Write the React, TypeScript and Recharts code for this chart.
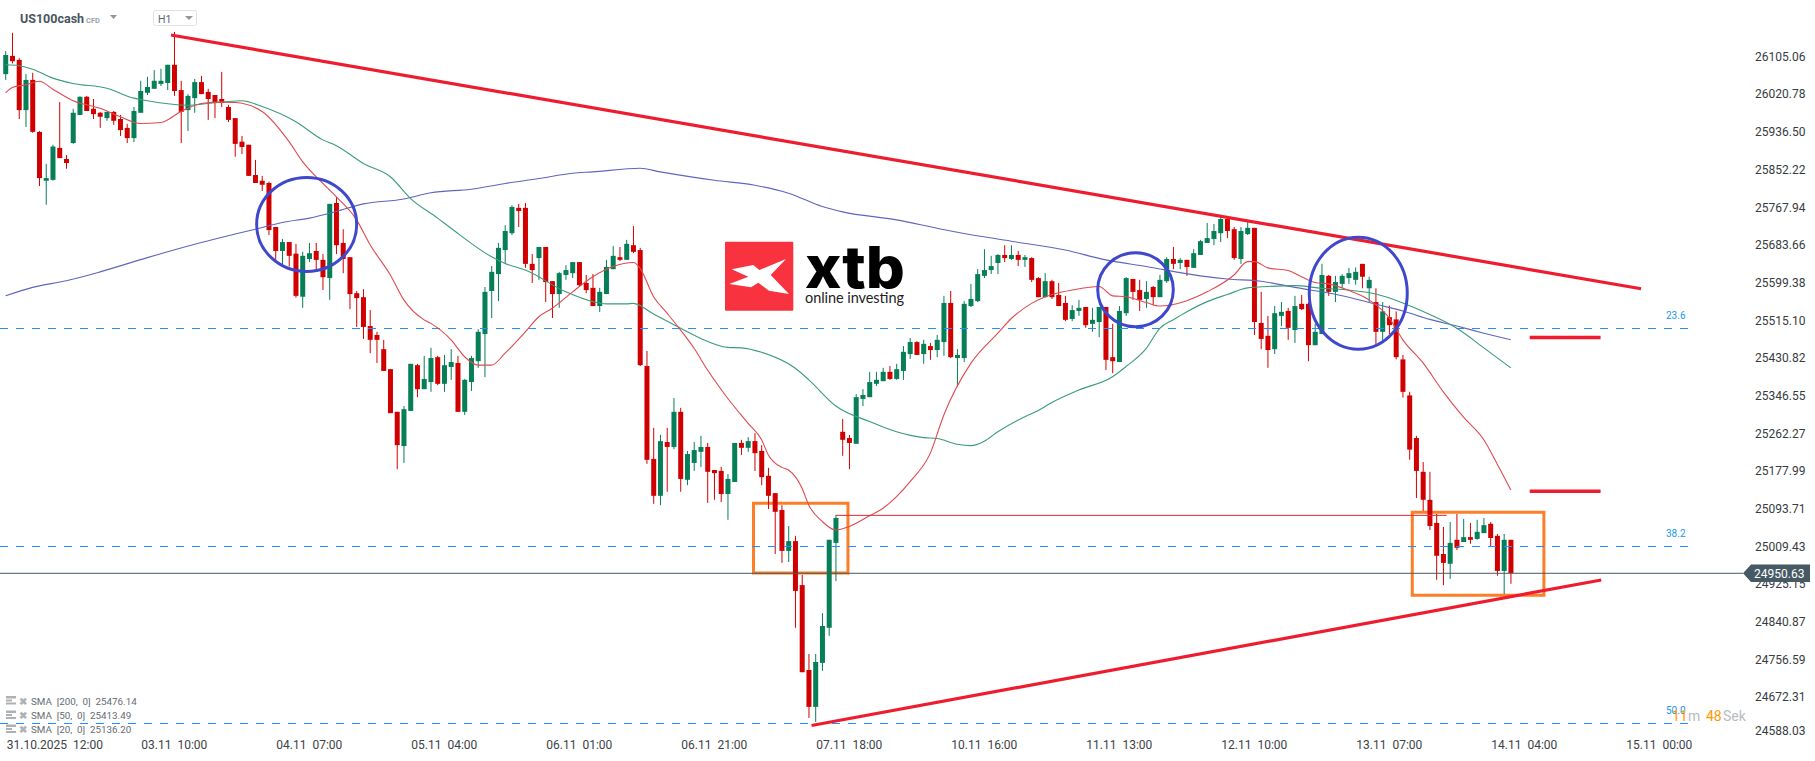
import { ComposedChart, Bar, Line, XAxis, YAxis, ReferenceLine, ReferenceArea, ReferenceDot } from 'recharts';

// hourly candles, 31.10.2025 12:00 onwards
const highs = [
  26126,26167,26110,26074,26077,25946,25872,25915,26011,25892,
  25996,26024,26025,26018,25989,25989,25991,25982,25962,26000,
  26059,26068,26083,26086,26095,26169,26059,26029,26063,26070,
  26041,26027,26079,26005,25975,25935,25915,25881,25845,25832,
  25730,25703,25696,25692,25674,25694,25694,25669,25782,25797,
  25725,25662,25586,25590,25543,25494,25476,25410,25314,25327,
  25422,25422,25440,25458,25440,25442,25455,25440,25388,25440,
  25500,25595,25642,25694,25734,25779,25782,25784,25669,25685,
  25685,25608,25629,25644,25651,25651,25622,25624,25593,25656,
  25687,25685,25701,25732,25683,25451,25278,25262,25278,25345,
  25323,25226,25246,25260,25244,25183,25190,25174,25244,25251,
  25257,25266,25239,25188,25131,25104,25057,25035,24947,24769,
  24769,24861,25026,25082,25298,25262,25354,25365,25404,25404,
  25413,25417,25422,25462,25480,25473,25476,25469,25487,25575,
  25586,25455,25563,25602,25635,25680,25665,25669,25689,25689,
  25676,25667,25662,25617,25626,25611,25604,25575,25554,25566,
  25550,25548,25550,25550,25512,25552,25617,25613,25611,25608,
  25597,25622,25662,25685,25660,25656,25680,25701,25739,25737,
  25755,25755,25730,25730,25741,25728,25584,25530,25552,25561,
  25548,25575,25577,25561,25512,25647,25622,25620,25624,25638,
  25639,25647,25618,25592,25561,25553,25540,25442,25359,25260,
  25201,25179,25084,25055,25066,25084,25073,25064,25071,25075,
  25066,25039,25039,25026,
];
const opens = [
  26074,26115,26106,25993,26061,25944,25834,25836,25908,25883,
  25919,25982,26023,25996,25987,25975,25989,25973,25953,25930,
  25987,26032,26041,26052,26054,26095,26038,25993,26020,26056,
  26034,26027,26018,26000,25975,25922,25915,25847,25834,25829,
  25730,25676,25696,25670,25573,25658,25676,25656,25615,25784,
  25694,25662,25581,25572,25507,25487,25455,25410,25314,25237,
  25316,25419,25365,25381,25437,25377,25415,25424,25314,25381,
  25428,25489,25586,25624,25678,25716,25773,25773,25647,25660,
  25685,25608,25579,25622,25626,25651,25604,25593,25552,25579,
  25635,25662,25656,25689,25678,25417,25208,25125,25246,25235,
  25314,25161,25199,25224,25235,25183,25181,25129,25156,25244,
  25233,25248,25226,25170,25131,25093,25001,25023,24924,24733,
  24650,24749,24828,25019,25269,25255,25242,25343,25347,25377,
  25383,25404,25388,25406,25444,25471,25444,25462,25453,25471,
  25559,25435,25435,25552,25563,25620,25633,25649,25667,25658,
  25667,25656,25660,25615,25572,25608,25577,25559,25523,25541,
  25550,25512,25516,25550,25437,25426,25536,25613,25588,25568,
  25595,25572,25608,25658,25649,25656,25638,25667,25694,25703,
  25716,25748,25725,25658,25714,25728,25514,25485,25455,25530,
  25541,25498,25557,25557,25464,25489,25620,25584,25602,25615,
  25611,25647,25592,25561,25494,25527,25522,25432,25351,25255,
  25179,25116,25064,24994,24972,25026,25021,25032,25028,25041,
  25062,25035,24956,25026,
];
const closes = [
  26117,26103,25993,26061,25944,25840,25840,25911,25885,25874,
  25987,26023,25991,25984,25978,25989,25969,25948,25930,25991,
  26036,26045,26059,26059,26095,26036,25989,26025,26056,26029,
  26018,26009,26009,25971,25917,25910,25845,25829,25825,25723,
  25676,25696,25665,25575,25665,25671,25656,25617,25782,25689,
  25658,25579,25570,25505,25476,25476,25406,25311,25239,25320,
  25422,25365,25388,25435,25377,25419,25426,25314,25386,25435,
  25494,25584,25629,25683,25721,25775,25766,25647,25633,25685,
  25606,25579,25626,25633,25651,25599,25588,25552,25584,25640,
  25665,25656,25692,25674,25419,25206,25125,25248,25235,25314,
  25163,25219,25228,25235,25179,25176,25129,25163,25244,25233,
  25248,25221,25167,25125,25089,25001,25023,24911,24728,24650,
  24751,24832,25026,25075,25251,25244,25347,25352,25381,25386,
  25404,25388,25410,25449,25471,25442,25467,25453,25476,25559,
  25437,25442,25557,25568,25624,25633,25642,25667,25660,25667,
  25656,25662,25611,25572,25608,25572,25552,25521,25543,25548,
  25509,25521,25550,25431,25428,25541,25615,25584,25566,25584,
  25572,25611,25658,25647,25656,25640,25671,25698,25705,25721,
  25748,25721,25660,25721,25728,25516,25478,25453,25536,25539,
  25503,25552,25545,25464,25494,25622,25584,25606,25620,25626,
  25629,25618,25611,25494,25540,25509,25437,25359,25229,25181,
  25116,25057,24990,24974,25019,25008,25032,25026,25044,25059,
  25030,24956,25026,24951,
];
const lows = [
  26061,26098,25973,25955,25942,25822,25780,25834,25885,25861,
  25917,25982,25991,25973,25953,25969,25960,25935,25919,25921,
  25987,26027,26041,26047,26038,26025,25919,25946,25987,26029,
  25971,25975,26000,25966,25888,25894,25845,25829,25811,25712,
  25656,25645,25641,25571,25548,25651,25633,25588,25566,25669,
  25626,25545,25505,25478,25446,25424,25406,25311,25185,25199,
  25316,25347,25365,25359,25374,25359,25386,25314,25307,25361,
  25413,25392,25525,25563,25647,25712,25730,25638,25604,25611,
  25561,25525,25548,25611,25615,25597,25581,25552,25539,25579,
  25635,25653,25656,25671,25417,25197,25107,25104,25134,25230,
  25134,25149,25181,25190,25109,25116,25111,25071,25156,25217,
  25224,25181,25149,25095,24994,24974,24976,24828,24728,24625,
  24616,24731,24810,24933,25215,25185,25242,25327,25347,25372,
  25383,25386,25386,25386,25433,25442,25422,25431,25437,25440,
  25435,25371,25426,25550,25561,25615,25624,25624,25651,25656,
  25642,25640,25606,25572,25572,25568,25552,25518,25518,25530,
  25503,25494,25482,25408,25401,25426,25530,25566,25541,25548,
  25554,25572,25604,25635,25635,25620,25638,25667,25694,25689,
  25696,25705,25656,25647,25712,25487,25455,25413,25444,25507,
  25476,25469,25543,25428,25464,25489,25575,25561,25593,25602,
  25600,25592,25561,25463,25470,25489,25432,25346,25206,25120,
  25091,25048,24936,24924,24938,25003,25021,25017,25026,25041,
  25012,24945,24904,24927,
];

// moving averages, read at these candle numbers
const sma20At = [0,1,3,5,7,10,14,17,20,23,26,29,32,34,38,42,44,47,49,52,54,57,59,62,63,66,68,70,72,74,77,79,81,84,87,90,93,94,96,98,100,102,104,107,110,112,113,115,116,118,119,121,123,125,128,130,132,134,137,139,143,147,149,152,156,158,162,164,166,169,171,175,178,182,184,185,187,190,192,194,196,199,202,205,207,210,213,216,219,221,223];
const sma20 = [26032,26044,26050,26058,26040,26014,25997,25978,25963,25965,25990,26008,26011,26010,25990,25922,25877,25828,25798,25746,25690,25622,25566,25521,25513,25476,25438,25419,25419,25446,25494,25528,25547,25584,25618,25641,25650,25637,25573,25536,25498,25457,25408,25344,25288,25251,25217,25189,25183,25142,25104,25067,25048,25056,25080,25097,25123,25157,25221,25307,25423,25491,25524,25558,25582,25588,25596,25575,25573,25560,25552,25564,25584,25622,25652,25652,25638,25632,25618,25605,25602,25587,25566,25525,25476,25424,25359,25302,25251,25196,25138];
const sma50At = [0,2,4,7,10,15,19,21,27,30,35,38,43,47,49,53,57,60,64,66,72,74,77,83,87,89,92,93,96,100,103,107,109,112,117,119,123,128,132,136,138,141,143,145,147,151,153,155,159,164,166,169,171,173,175,178,181,184,187,191,195,199,203,207,211,215,219,223];
const sma50 = [26095,26093,26085,26065,26053,26042,26020,26014,26004,26008,26014,26001,25967,25926,25913,25873,25843,25794,25750,25727,25663,25648,25633,25584,25562,25557,25557,25558,25534,25502,25479,25459,25458,25448,25412,25386,25327,25292,25269,25256,25254,25241,25238,25248,25269,25303,25317,25335,25363,25393,25416,25457,25502,25521,25539,25562,25578,25593,25596,25598,25592,25588,25579,25559,25533,25502,25458,25413];
const sma200At = [0,4,9,14,21,29,34,37,41,45,49,53,59,63,69,74,79,84,87,94,97,105,111,116,121,124,132,138,141,149,157,163,169,177,181,186,191,199,203,207,211,215,219,223];
const sma200 = [25575,25594,25609,25629,25661,25695,25714,25725,25740,25750,25765,25782,25793,25807,25815,25828,25839,25851,25854,25862,25854,25835,25824,25806,25776,25764,25746,25727,25718,25698,25678,25656,25641,25620,25613,25608,25594,25572,25556,25541,25522,25507,25491,25476];

const priceTicks = [26105.06,26020.78,25936.5,25852.22,25767.94,25683.66,25599.38,25515.1,25430.82,25346.55,25262.27,25177.99,25093.71,25009.43,24925.15,24840.87,24756.59,24672.31,24588.03];
const timeTicks = [7.3,25,45,65,85,105,125,145,165,185,205,225,245];
const timeLabels = ['31.10.2025  12:00','03.11  10:00','04.11  07:00','05.11  04:00','06.11  01:00','06.11  21:00','07.11  18:00','10.11  16:00','11.11  13:00','12.11  10:00','13.11  07:00','14.11  04:00','15.11  00:00'];

const fibLevels = [25501.5, 25010.9, 24612.6];
const lastPrice = 24950.63;

const rows = highs.map((h, i) => ({ i, high: h, low: lows[i], open: opens[i], close: closes[i] }));
const sma20Rows = sma20At.map((i, k) => ({ i, v: sma20[k] }));
const sma50Rows = sma50At.map((i, k) => ({ i, v: sma50[k] }));
const sma200Rows = sma200At.map((i, k) => ({ i, v: sma200[k] }));

const UP = '#067f58';
const DOWN = '#d10000';
const TREND = '#ee1c2e';
const FIB = '#1e90ff';
const CIRCLE = '#3f48cc';
const BOX = '#fd7e26';

function Candle(props: any) {
  const { x, y, width, height, payload } = props;
  const range = payload.high - payload.low || 1;
  const top = Math.max(payload.open, payload.close);
  const bottom = Math.min(payload.open, payload.close);
  const bodyY = y + ((payload.high - top) / range) * height;
  const bodyH = Math.max(1, ((top - bottom) / range) * height);
  const color = payload.close >= payload.open ? UP : DOWN;
  const mid = x + width / 2;
  return (
    <g>
      <line x1={mid} x2={mid} y1={y} y2={y + height} stroke={color} strokeWidth={1} />
      <rect x={x} y={bodyY} width={width} height={bodyH} fill={color} />
    </g>
  );
}

function PriceTick({ y, payload }: any) {
  // the platform spaces its labels a little wider than the price scale, the last one is clamped
  const idx = priceTicks.indexOf(payload.value);
  const shift = idx === priceTicks.length - 1 ? 0 : idx * 0.23;
  return <text x={1755} y={y - 3.5 + shift} dominantBaseline="central" fontSize={12} fill="#363c42" fontFamily="Roboto">{payload.value.toFixed(2)}</text>;
}

function TimeTick({ x, payload }: any) {
  const label = timeLabels[timeTicks.indexOf(payload.value)];
  return <text x={x} y={745} textAnchor="middle" dominantBaseline="central" fontSize={12} fill="#3c4248" fontFamily="Roboto" style={{ whiteSpace: 'pre' }}>{label}</text>;
}

const ellipse = (rx: number, ry: number) => (p: any) => (
  <ellipse cx={p.cx} cy={p.cy} rx={rx} ry={ry} fill="none" stroke={CIRCLE} strokeWidth={3} />
);

const line = (x1: number, y1: number, x2: number, y2: number) => [{ x: x1, y: y1 }, { x: x2, y: y2 }] as any;

const legendRows = [['SMA  [200,  0]  25476.14', 701], ['SMA  [50,  0]  25413.49', 715.5], ['SMA  [20,  0]  25136.20', 729.5]] as const;

export default function App() {
  return (
    <div style={{ position: 'absolute', left: 0, top: 0, width: 1815, height: 761, overflow: 'hidden', background: '#fff' }}>
      <ComposedChart width={1815} height={761} data={rows} margin={{ top: 0, right: 0, bottom: 0, left: 0 }}>
        <XAxis dataKey="i" type="number" domain={[-0.83, 257.4]} allowDataOverflow ticks={timeTicks} interval={0} height={26} axisLine={false} tickLine={false} tick={<TimeTick />} />
        <YAxis orientation="right" type="number" domain={[24586.7, 26240.8]} allowDataOverflow ticks={priceTicks} interval={0} width={72} axisLine={false} tickLine={false} tick={<PriceTick />} />

        {fibLevels.map(v => (
          <ReferenceLine key={v} segment={line(-0.83, v, 249.7, v)} stroke={FIB} strokeWidth={1} strokeDasharray="8 8" shapeRendering="crispEdges" ifOverflow="visible" />
        ))}
        <ReferenceLine y={lastPrice} stroke="#455a64" strokeWidth={1} />

        <Bar dataKey={(d: any) => [d.low, d.high]} barSize={5} shape={<Candle />} isAnimationActive={false} />

        <Line data={sma200Rows} dataKey="v" name="sma200" type="monotone" stroke="#5f66bd" strokeWidth={1.1} dot={false} activeDot={false} isAnimationActive={false} />
        <Line data={sma50Rows} dataKey="v" name="sma50" type="monotone" stroke="#3b9c7c" strokeWidth={1.1} dot={false} activeDot={false} isAnimationActive={false} />
        <Line data={sma20Rows} dataKey="v" name="sma20" type="monotone" stroke="#e04a4f" strokeWidth={1.1} dot={false} activeDot={false} isAnimationActive={false} />

        <ReferenceLine segment={line(24.5, 26162, 242.3, 25591)} stroke={TREND} strokeWidth={3.2} ifOverflow="visible" />
        <ReferenceLine segment={line(119.4, 24608, 236.4, 24935.5)} stroke={TREND} strokeWidth={3.2} ifOverflow="visible" />
        <ReferenceLine segment={line(225.8, 25481, 236.3, 25481)} stroke={TREND} strokeWidth={3.5} ifOverflow="visible" />
        <ReferenceLine segment={line(225.8, 25135, 236.3, 25135)} stroke={TREND} strokeWidth={3.5} ifOverflow="visible" />
        <ReferenceLine segment={line(123, 25081, 213.5, 25081)} stroke="#e0282e" strokeWidth={1} ifOverflow="visible" />

        <ReferenceArea x1={110.8} x2={124.8} y1={24951} y2={25108} fill="none" stroke={BOX} strokeWidth={3} ifOverflow="visible" />
        <ReferenceArea x1={208.4} x2={227.9} y1={24901} y2={25088} fill="none" stroke={BOX} strokeWidth={3} ifOverflow="visible" />

        <ReferenceDot x={44.6} y={25735.8} r={1} shape={ellipse(50, 47)} ifOverflow="visible" />
        <ReferenceDot x={167.4} y={25588.8} r={1} shape={ellipse(37.8, 37)} ifOverflow="visible" />
        <ReferenceDot x={200.4} y={25581} r={1} shape={ellipse(49, 56)} ifOverflow="visible" />
      </ComposedChart>

      <svg width={1815} height={761} style={{ position: 'absolute', left: 0, top: 0, pointerEvents: 'none' }} fontFamily="Roboto">
        <text x={20} y={23} fontSize={12.5} fontWeight={700} fill="#4a5560">US100cash</text>
        <text x={86} y={23} fontSize={7.5} fontWeight={700} fill="#9aa3a9">CFD</text>
        <polygon points="110,15 117,15 113.5,19" fill="#8f979d" />
        <rect x={153.5} y={10.5} width={43} height={15} rx={2} fill="#fff" stroke="#dfe2e4" />
        <text x={158} y={23} fontSize={10.5} fill="#5c6670">H1</text>
        <polygon points="185,16 193,16 189,20" fill="#8f979d" />

        <rect x={725} y={241.7} width={68.3} height={69} rx={1} fill="#f93240" />
        <polygon points="731.7,269.3 753.3,265 759.3,270 786,259 770.7,275 789,294 769,290.7 758.3,282.7 751,287.3 729.3,284 748.3,276.7" fill="#fff" />
        <text x={805} y={287.5} fontSize={58} fontWeight={800} fontFamily="Inter" fill="#000" textLength={100} lengthAdjust="spacingAndGlyphs">xtb</text>
        <text x={805} y={303} fontSize={14.5} fontFamily="Lato" fill="#222" textLength={99}>online investing</text>

        <text x={1666} y={319} fontSize={10} fill="#2196f3">23.6</text>
        <text x={1666} y={537} fontSize={10} fill="#2196f3">38.2</text>
        <text x={1666} y={714} fontSize={10} fill="#2196f3">50.0</text>
        <text x={1672} y={721} fontSize={14} fill="#ff9800">11</text>
        <text x={1688} y={721} fontSize={14} fill="#b8bcc0">m</text>
        <text x={1706} y={721} fontSize={14} fill="#ff9800">48</text>
        <text x={1723} y={721} fontSize={14} fill="#b8bcc0">Sek</text>

        <polygon points="1743,573.3 1751,564.5 1810,564.5 1810,582 1751,582" fill="#455a64" />
        <text x={1754} y={577.6} fontSize={12} fill="#fff">24950.63</text>

        {legendRows.map(([label, y]) => (
          <g key={label}>
            <rect x={6} y={y - 5} width={10} height={2.5} fill="#aeb2b5" />
            <rect x={6} y={y - 1.5} width={6} height={2} fill="#aeb2b5" />
            <rect x={6} y={y + 1.5} width={10} height={2} fill="#aeb2b5" />
            <text x={19} y={y + 3.5} fontSize={10} fontWeight={700} fill="#aeb2b5">✖</text>
            <text x={31} y={y + 3.5} fontSize={9.8} fill="#666c72" style={{ whiteSpace: 'pre' }}>{label}</text>
          </g>
        ))}
      </svg>
    </div>
  );
}
